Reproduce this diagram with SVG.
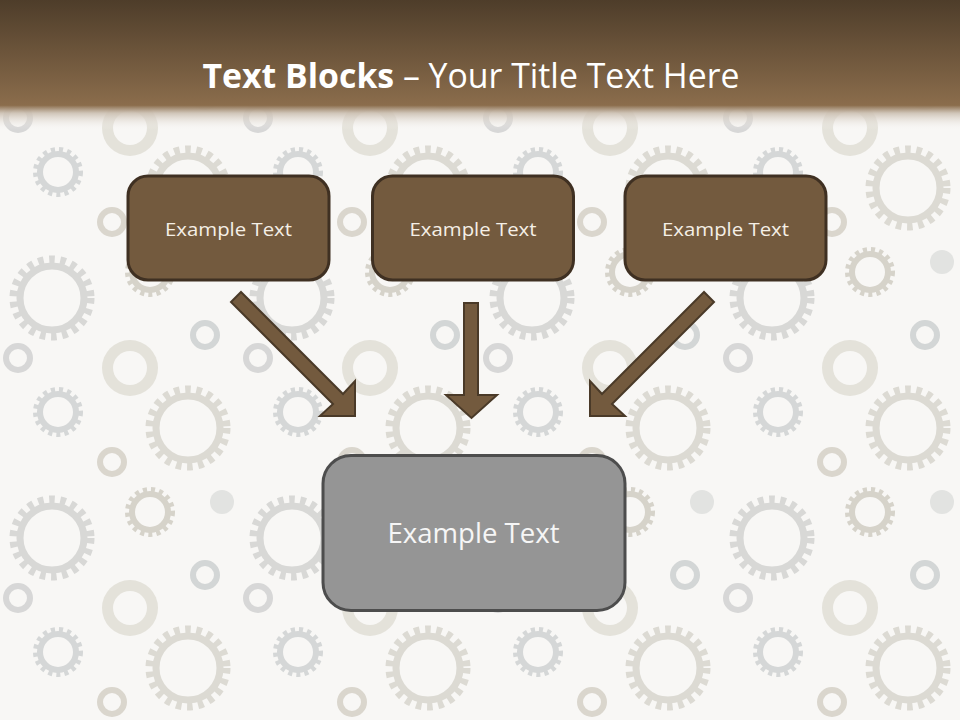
<svg xmlns="http://www.w3.org/2000/svg" width="960" height="720" viewBox="0 0 960 720">
<defs>
<linearGradient id="band" x1="0" y1="0" x2="0" y2="130" gradientUnits="userSpaceOnUse">
<stop offset="0" stop-color="#4e3d2a"/>
<stop offset="0.81" stop-color="#8b6d4c"/>
<stop offset="0.87" stop-color="#cbbfb1" stop-opacity="0.9"/>
<stop offset="1" stop-color="#f8f7f5" stop-opacity="0"/>
</linearGradient>
<g id="gearA"><circle r="38" fill="none" stroke-width="9" stroke-dasharray="5.5 5.5"/><circle r="32" fill="none" stroke-width="7"/></g>
<g id="gearB"><circle r="22" fill="none" stroke-width="6" stroke-dasharray="4 4"/><circle r="18" fill="none" stroke-width="6"/></g>
<g id="ring"><circle r="12" fill="none" stroke-width="6"/></g>
<g id="disc"><circle r="28"/><circle r="17" fill="#f8f7f5" stroke="none"/></g>
<pattern id="gears" x="0" y="0" width="240" height="240" patternUnits="userSpaceOnUse">
<rect width="240" height="240" fill="#f8f7f5"/>
<use href="#gearA" x="52" y="58" stroke="#d8d8d6"/>
<use href="#gearB" x="150" y="32" stroke="#d6d3ca"/>
<use href="#ring" x="205" y="95" stroke="#d3d6d6"/>
<use href="#disc" x="130" y="128" fill="#e4e2da" stroke="none"/>
<use href="#gearA" x="188" y="188" stroke="#dcdad3"/>
<use href="#gearB" x="58" y="172" stroke="#d5d7d7"/>
<use href="#ring" x="112" y="222" stroke="#dad6cd"/>
<use href="#ring" x="18" y="118" stroke="#d7d7d7"/>
<circle cx="222" cy="22" r="12" fill="#e2e3e1"/>
</pattern>
<style>
.box{fill:#735a3e;stroke:#3f3022;stroke-width:3}
.main{fill:#959595;stroke:#4d4d4d;stroke-width:3}
.lbl{font-family:"Open Sans","Noto Sans",sans-serif;font-size:19px;fill:#f5efe6;text-anchor:middle}
.arrow{fill:#735a3e;stroke:#4a3a28;stroke-width:2;stroke-linejoin:miter}
</style>
</defs>
<rect width="960" height="720" fill="url(#gears)"/>
<rect width="960" height="132" fill="url(#band)"/>
<text x="471" y="88" font-family="'Open Sans','Noto Sans',sans-serif" font-size="34" fill="#ffffff" text-anchor="middle" textLength="537" lengthAdjust="spacingAndGlyphs"><tspan font-weight="bold">Text Blocks</tspan> – Your Title Text Here</text>
<g id="connectors">
<polygon class="arrow" points="241,292 343,394 355,381 355,416 320,416 333,404 231,302"/>
<polygon class="arrow" points="464,303 478,303 478,395 497,395 471.5,418 446,395 464,395"/>
<polygon class="arrow" points="704,292 602,394 590,381 590,416 625,416 612,404 714,302"/>
</g>
<g id="node1"><rect class="box" x="128" y="176" width="201" height="104" rx="20"/><text class="lbl" x="228.5" y="236" textLength="127" lengthAdjust="spacingAndGlyphs">Example Text</text></g>
<g id="node2"><rect class="box" x="372.5" y="176" width="201" height="104" rx="20"/><text class="lbl" x="473" y="236" textLength="127" lengthAdjust="spacingAndGlyphs">Example Text</text></g>
<g id="node3"><rect class="box" x="625" y="176" width="201" height="104" rx="20"/><text class="lbl" x="725.5" y="236" textLength="127" lengthAdjust="spacingAndGlyphs">Example Text</text></g>
<g id="node4"><rect class="main" x="323" y="455.5" width="302" height="155" rx="28"/><text class="lbl" x="473.5" y="543" style="font-size:27px;fill:#f6f6f6" textLength="172" lengthAdjust="spacingAndGlyphs">Example Text</text></g>
</svg>
